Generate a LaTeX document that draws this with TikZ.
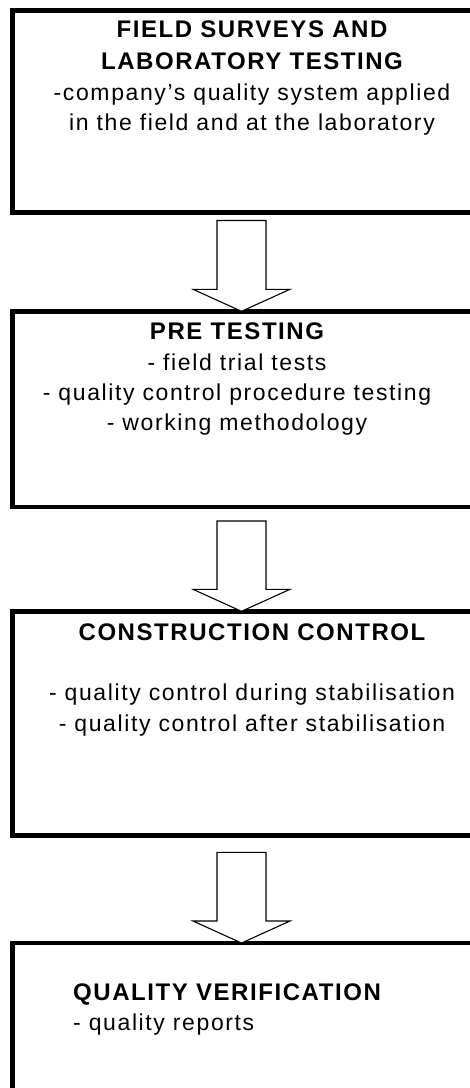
\documentclass[tikz,border=0pt]{standalone}
\usepackage{fontspec}
\setmainfont{Liberation Sans}
\newfontfamily\ttlfont{Liberation Sans}[LetterSpace=6.5]
\newfontfamily\bdyfont{Liberation Sans}[LetterSpace=7]
\usetikzlibrary{calc}
\tikzset{
  box/.style={draw=black, line width=4.5pt, inner sep=0pt, outer sep=0pt, anchor=north west},
  blk/.style={draw=black, line width=1.1pt, fill=white, line join=miter},
  ttl/.style={font=\ttlfont\bfseries\fontsize{24}{28}\selectfont, anchor=base, inner sep=0pt},
  bdy/.style={font=\bdyfont\fontsize{23}{27}\selectfont, anchor=base, inner sep=0pt},
}
\newcommand\blkarrow[2]{%
  \draw[blk] ($(#1)+(-24.5,0)$) -- ($(#2)+(-24.5,22)$) -- ($(#2)+(-48.5,22)$) -- (#2)
    -- ($(#2)+(48.5,22)$) -- ($(#2)+(24.5,22)$) -- ($(#1)+(24.5,0)$) -- cycle;}
\begin{document}
\begin{tikzpicture}[x=1pt,y=1pt]
\useasboundingbox (0,0) rectangle (470,-1088);
\clip (0,0) rectangle (470,-1088);
% boxes
\node[box, minimum width=482.5pt, minimum height=202pt] (b1) at (12.5,-10.5) {};
\node[box, minimum width=482.5pt, minimum height=195.7pt] (b2) at (12.5,-311.3) {};
\node[box, minimum width=482.5pt, minimum height=224.2pt] (b3) at (12.5,-611.3) {};
\node[box, minimum width=482.5pt, minimum height=200pt] (b4) at (12.5,-943) {};
% arrows
\coordinate (a1s) at (241.5,-220.5);
\coordinate (a1e) at (a1s |- b2.north);
\coordinate (a2s) at (241.5,-521);
\coordinate (a2e) at (a2s |- b3.north);
\coordinate (a3s) at (241.5,-852.3);
\coordinate (a3e) at (a3s |- b4.north);
\blkarrow{a1s}{a1e}
\blkarrow{a2s}{a2e}
\blkarrow{a3s}{a3e}
% texts box 1
\node[ttl] (t1a) at (252,-37.7) {FIELD SURVEYS AND};
\node[ttl] (t1b) at (252,-69.3) {LABORATORY TESTING};
\node[bdy] (t1c) at (252,-100.5) {-company’s quality system applied};
\node[bdy] (t1d) at (252,-130) {in the field and at the laboratory};
% texts box 2
\node[ttl] (t2a) at (237,-339.3) {PRE TESTING};
\node[bdy] (t2b) at (237,-370) {- field trial tests};
\node[bdy] (t2c) at (237,-400) {- quality control procedure testing};
\node[bdy] (t2d) at (237,-430) {- working methodology};
% texts box 3
\node[ttl] (t3a) at (252,-640.7) {CONSTRUCTION CONTROL};
\node[bdy] (t3b) at (252,-700) {- quality control during stabilisation};
\node[bdy] (t3c) at (252,-731.7) {- quality control after stabilisation};
% texts box 4
\node[ttl, anchor=base west] (t4a) at (73,-1000) {QUALITY VERIFICATION};
\node[bdy, anchor=base west] (t4b) at (73,-1030) {- quality reports};
\end{tikzpicture}
\end{document}
